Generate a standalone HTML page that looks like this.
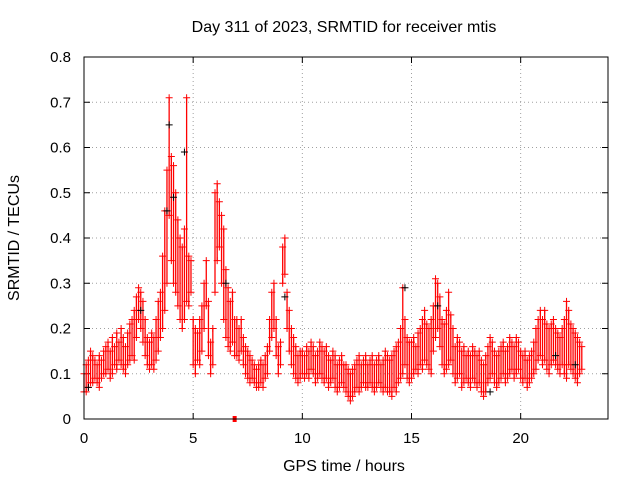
<!DOCTYPE html>
<html><head><meta charset="utf-8"><style>
body{margin:0;background:#fff}
svg{display:block;font-family:"Liberation Sans",Arial,sans-serif}
</style></head><body>
<svg id="chart" width="640" height="480" viewBox="0 0 640 480" xmlns="http://www.w3.org/2000/svg">
<rect width="640" height="480" fill="#fff"/>
<text x="344" y="32" font-size="16" text-anchor="middle">Day 311 of 2023, SRMTID for receiver mtis</text>
<text transform="translate(19,238) rotate(-90)" font-size="16" text-anchor="middle">SRMTID / TECUs</text>
<text x="344" y="471" font-size="16" text-anchor="middle">GPS time / hours</text>
<g id="grid"></g><g id="ticks"></g><g id="marks"></g>
<rect x="84" y="57" width="524" height="362" fill="none" stroke="#000" stroke-width="1"/>
</svg>
<script>
const xTicks=[0,5,10,15,20];
const yTicks=[0,0.1,0.2,0.3,0.4,0.5,0.6,0.7,0.8];
const yTickLabels=["0","0.1","0.2","0.3","0.4","0.5","0.6","0.7","0.8"];
const t0=0, dt=0.1;
const lo=[.06,.06,.07,.08,.08,.09,.08,.07,.09,.10,
.10,.11,.09,.10,.12,.11,.13,.12,.11,.10,
.12,.13,.14,.13,.18,.22,.20,.17,.14,.12,
.11,.12,.11,.13,.15,.18,.20,.24,.30,.45,
.35,.30,.28,.25,.22,.20,.22,.26,.25,.28,
.12,.10,.13,.12,.15,.20,.25,.14,.10,.12,
.28,.35,.38,.30,.22,.18,.16,.15,.17,.14,
.14,.13,.15,.12,.10,.09,.08,.09,.08,.07,
.07,.08,.07,.09,.10,.15,.18,.20,.14,.10,
.12,.30,.32,.20,.15,.12,.10,.09,.08,.09,
.10,.09,.10,.09,.11,.10,.08,.09,.10,.09,
.08,.09,.07,.08,.09,.07,.06,.07,.08,.07,
.06,.05,.04,.05,.06,.07,.06,.07,.08,.07,
.07,.08,.07,.06,.07,.08,.07,.06,.07,.06,
.06,.05,.07,.06,.08,.09,.10,.12,.09,.08,
.09,.10,.11,.10,.12,.11,.13,.12,.11,.10,
.15,.18,.20,.16,.12,.10,.11,.12,.13,.10,
.08,.09,.10,.07,.08,.09,.08,.07,.09,.08,
.07,.08,.06,.05,.06,.08,.09,.10,.08,.07,
.08,.09,.10,.08,.09,.10,.11,.09,.10,.11,
.09,.08,.09,.07,.08,.09,.10,.11,.13,.14,
.12,.13,.11,.10,.12,.13,.12,.11,.10,.12,
.10,.09,.12,.11,.10,.09,.08,.10,.11];
const hi=[.10,.12,.13,.15,.14,.13,.12,.14,.13,.15,
.16,.17,.15,.18,.16,.19,.17,.20,.18,.16,
.19,.21,.22,.24,.27,.29,.28,.26,.22,.18,
.17,.19,.18,.22,.26,.28,.36,.46,.55,.71,
.58,.56,.50,.44,.40,.38,.42,.71,.36,.35,
.22,.20,.19,.22,.25,.30,.35,.26,.17,.20,
.50,.52,.48,.45,.42,.33,.29,.26,.28,.22,
.22,.20,.22,.18,.16,.15,.14,.13,.12,.11,
.12,.13,.12,.14,.16,.22,.28,.30,.22,.16,
.17,.38,.40,.28,.24,.20,.18,.16,.14,.15,
.15,.14,.16,.15,.17,.16,.14,.15,.17,.16,
.15,.16,.14,.13,.15,.14,.12,.13,.14,.12,
.12,.11,.10,.11,.12,.13,.14,.12,.13,.14,
.12,.13,.14,.12,.13,.14,.12,.13,.15,.14,
.13,.14,.15,.16,.17,.20,.29,.22,.18,.17,
.17,.18,.16,.19,.20,.22,.24,.21,.20,.22,
.25,.31,.30,.27,.22,.21,.24,.28,.23,.20,
.16,.18,.17,.15,.16,.14,.15,.14,.16,.15,
.14,.15,.13,.12,.14,.16,.18,.17,.15,.14,
.15,.16,.17,.15,.16,.18,.17,.16,.18,.17,
.15,.14,.15,.13,.14,.15,.17,.20,.22,.24,
.22,.24,.21,.20,.21,.22,.20,.19,.18,.20,
.22,.26,.24,.21,.20,.19,.18,.17,.16];
const blackT=[0.2,2.6,3.8,3.9,4.1,4.6,6.5,9.2,14.7,16.2,18.6,21.6,22.5];
const blackV=[0.07,0.24,0.46,0.65,0.49,0.59,0.30,0.27,0.29,0.25,0.06,0.14,0.12];
const zeroT=[6.9];
const zeroV=[0];

const X0=84,X1=608,Y0=419,Y1=57;
const xs=v=>X0+(v-0)/(24-0)*(X1-X0);
const ys=v=>Y0-(v-0)/(0.8-0)*(Y0-Y1);
const NS="http://www.w3.org/2000/svg";
function mk(tag,parent,attrs){const e=document.createElementNS(NS,tag);for(const k in attrs)e.setAttribute(k,attrs[k]);parent.appendChild(e);return e;}
const grid=document.getElementById('grid'),ticks=document.getElementById('ticks'),marks=document.getElementById('marks');
xTicks.forEach(v=>{const x=xs(v);
 if(v>0){const g=mk('line',grid,{x1:x,x2:x,y1:Y1,y2:Y0,stroke:'#a0a0a0','stroke-dasharray':'1,3'});
 
 }
 mk('line',ticks,{x1:x,x2:x,y1:Y0,y2:Y0-6,stroke:'#000'});
 mk('line',ticks,{x1:x,x2:x,y1:Y1,y2:Y1+6,stroke:'#000'});
 const t=mk('text',ticks,{x:x,y:Y0+24,'font-size':'15','text-anchor':'middle'});t.textContent=v;
 
 
});
yTicks.forEach((v,i)=>{const y=ys(v);
 if(v>0&&v<0.8){const g=mk('line',grid,{x1:X0,x2:X1,y1:y,y2:y,stroke:'#a0a0a0','stroke-dasharray':'1,3'});
 
 }
 mk('line',ticks,{x1:X0,x2:X0+6,y1:y,y2:y,stroke:'#000'});
 mk('line',ticks,{x1:X1,x2:X1-6,y1:y,y2:y,stroke:'#000'});
 const t=mk('text',ticks,{x:X0-13,y:y+5,'font-size':'15','text-anchor':'end'});t.textContent=yTickLabels[i];
 
 
});
function plus(x,y,c,name){const p=mk('path',marks,{d:`M${x-3.5},${y}h7M${x},${y-3.5}v7`,stroke:c,'stroke-width':1,fill:'none'});
 
 }
lo.forEach((l,i)=>{const t=t0+i*dt,x=xs(t);
 const r=mk('line',marks,{x1:x,x2:x,y1:ys(l),y2:ys(hi[i]),stroke:'#ff0000','stroke-width':1.3});
 
 
 plus(x,ys(l),'#ff0000','srmtid-point');
 plus(x,ys(hi[i]),'#ff0000','srmtid-point');
});
blackT.forEach((t,i)=>plus(xs(t),ys(blackV[i]),'#000','srmtid-black-point'));
zeroT.forEach((t,i)=>{const r=mk('rect',marks,{x:xs(t)-2,y:ys(zeroV[i])-3,width:4,height:6,fill:'#ff0000'});
 
 });
</script>
</body></html>
